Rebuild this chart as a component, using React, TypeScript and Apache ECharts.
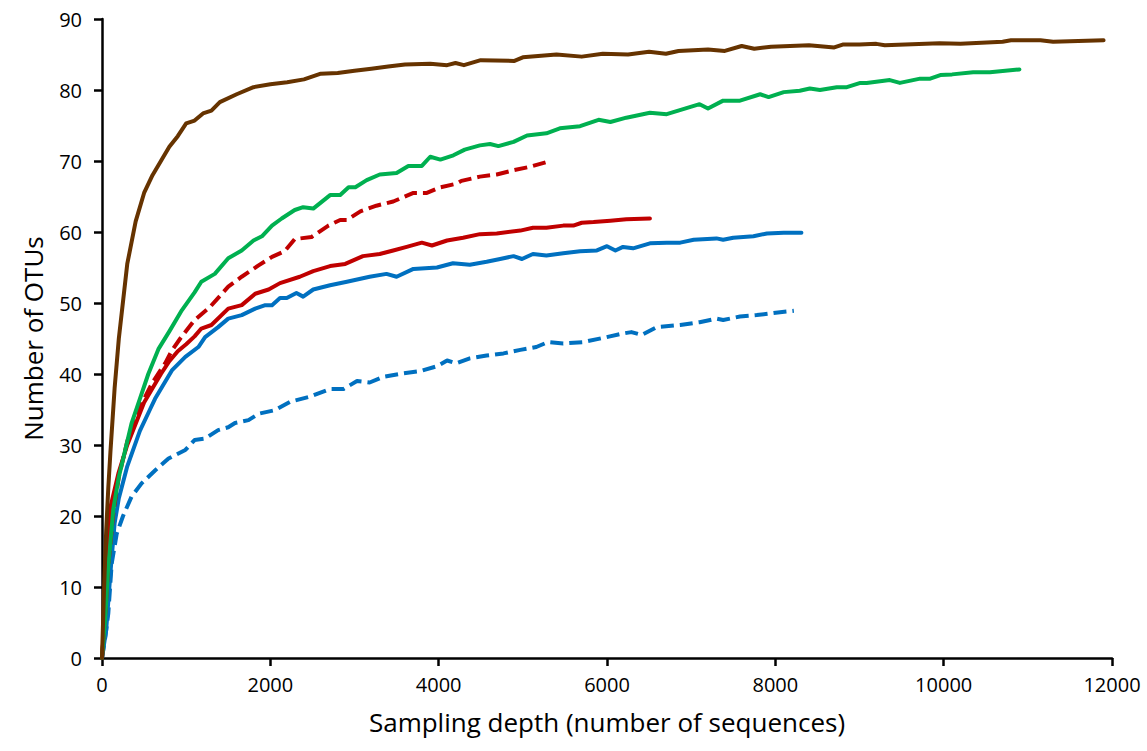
import React, { useEffect, useRef } from "react";
import * as echarts from "echarts";

const xTicks = { min: 0, max: 12000, interval: 2000 };
const yTicks = { min: 0, max: 90, interval: 10 };
const xTitle = "Sampling depth (number of sequences)";
const yTitle = "Number of OTUs";

const brown: number[][] = [
  [0, 0], [25, 10], [50, 18], [75, 24], [100, 29], [150, 38], [200, 45], [300, 55.5], [400, 61.5], [500, 65.5],
  [600, 68], [700, 70], [800, 72], [900, 73.5], [1000, 75.3], [1100, 75.7], [1200, 76.7], [1300, 77.1], [1400, 78.3],
  [1600, 79.4], [1800, 80.4], [2000, 80.8], [2200, 81.1], [2400, 81.5], [2600, 82.3], [2800, 82.4], [3000, 82.7],
  [3200, 83.0], [3400, 83.3], [3600, 83.6], [3900, 83.7], [4100, 83.5], [4200, 83.8], [4300, 83.5], [4500, 84.2],
  [4900, 84.1], [5000, 84.6], [5400, 85.0], [5700, 84.7], [5950, 85.1], [6250, 85.0], [6500, 85.4], [6700, 85.1],
  [6850, 85.5], [7200, 85.7], [7400, 85.5], [7600, 86.2], [7750, 85.8], [7950, 86.1], [8400, 86.3], [8700, 86.0],
  [8800, 86.4], [9000, 86.4], [9200, 86.5], [9300, 86.3], [9950, 86.6], [10200, 86.5], [10700, 86.8], [10800, 87.0],
  [11150, 87.0], [11300, 86.8], [11900, 87.0],
];

const green: number[][] = [
  [0, 0], [40, 6], [75, 13], [135, 21], [200, 25.5], [250, 28], [350, 33], [450, 36.5], [550, 40], [670, 43.5],
  [800, 46], [950, 49], [1100, 51.5], [1180, 53], [1340, 54.1], [1500, 56.3], [1660, 57.4], [1800, 58.8], [1900, 59.4],
  [2020, 60.9], [2135, 61.9], [2290, 63.1], [2390, 63.5], [2510, 63.3], [2710, 65.2], [2830, 65.2], [2930, 66.3],
  [3010, 66.3], [3145, 67.3], [3300, 68.1], [3500, 68.3], [3640, 69.3], [3800, 69.3], [3900, 70.6], [4020, 70.2],
  [4175, 70.8], [4310, 71.6], [4490, 72.2], [4610, 72.4], [4710, 72.1], [4890, 72.7], [5050, 73.6], [5280, 73.9],
  [5440, 74.6], [5680, 74.9], [5900, 75.8], [6040, 75.5], [6230, 76.1], [6510, 76.8], [6710, 76.6], [7100, 78.0],
  [7200, 77.4], [7380, 78.5], [7580, 78.5], [7820, 79.4], [7920, 79.0], [8100, 79.7], [8290, 79.9], [8410, 80.2],
  [8530, 80.0], [8730, 80.4], [8850, 80.4], [9010, 81.0], [9085, 81.0], [9360, 81.4], [9480, 81.0], [9720, 81.6],
  [9840, 81.6], [9960, 82.1], [10100, 82.2], [10350, 82.5], [10550, 82.5], [10900, 82.9],
];

const redDashed: number[][] = [
  [0, 0], [40, 6.5], [75, 13], [135, 20.5], [200, 25.5], [300, 30.5], [400, 34], [500, 36.5], [600, 38.8],
  [750, 41.5], [830, 43.3], [930, 45.0], [1100, 47.6], [1280, 49.4], [1500, 52.3], [1660, 53.7], [1860, 55.3],
  [2020, 56.5], [2170, 57.3], [2290, 59.0], [2490, 59.3], [2690, 60.9], [2830, 61.7], [2910, 61.7], [3070, 62.9],
  [3260, 63.7], [3460, 64.3], [3700, 65.5], [3860, 65.5], [4020, 66.3], [4210, 66.8], [4270, 67.2], [4490, 67.8],
  [4690, 68.1], [4890, 68.7], [5090, 69.2], [5300, 69.9],
];

const redSolid: number[][] = [
  [0, 0], [40, 7], [95, 21], [195, 26], [300, 30], [400, 33], [500, 36], [600, 38], [700, 40], [800, 41.8],
  [900, 43.2], [1000, 44.2], [1100, 45.3], [1180, 46.4], [1300, 46.9], [1500, 49.2], [1660, 49.7], [1820, 51.3],
  [1980, 51.9], [2115, 52.8], [2350, 53.7], [2510, 54.5], [2710, 55.2], [2890, 55.5], [3100, 56.6], [3300, 56.9],
  [3460, 57.4], [3620, 57.9], [3800, 58.5], [3920, 58.1], [4100, 58.8], [4290, 59.2], [4490, 59.7], [4690, 59.8],
  [4970, 60.2], [5120, 60.6], [5280, 60.6], [5480, 60.9], [5600, 60.9], [5700, 61.3], [5840, 61.4], [6040, 61.6],
  [6230, 61.8], [6510, 61.9],
];

const blueSolid: number[][] = [
  [0, 0], [50, 4], [100, 12], [150, 19], [200, 22.5], [300, 27], [450, 32], [570, 35], [630, 36.5], [830, 40.5],
  [990, 42.4], [1145, 43.8], [1225, 45.2], [1380, 46.6], [1500, 47.8], [1660, 48.3], [1820, 49.2], [1940, 49.7],
  [2020, 49.7], [2115, 50.7], [2195, 50.7], [2310, 51.4], [2390, 50.9], [2510, 51.9], [2710, 52.5], [2910, 53.0],
  [3180, 53.7], [3380, 54.1], [3500, 53.7], [3700, 54.8], [3980, 55.0], [4170, 55.6], [4370, 55.4], [4570, 55.8],
  [4730, 56.2], [4890, 56.6], [4990, 56.2], [5120, 56.9], [5280, 56.7], [5480, 57.0], [5680, 57.3], [5880, 57.4],
  [6000, 58.0], [6100, 57.4], [6190, 57.9], [6310, 57.7], [6510, 58.4], [6710, 58.5], [6870, 58.5], [7030, 58.9],
  [7300, 59.1], [7380, 58.9], [7500, 59.2], [7740, 59.4], [7900, 59.8], [8100, 59.9], [8310, 59.9],
];

const blueDashed: number[][] = [
  [0, 0], [40, 3], [75, 6.3], [115, 13.3], [175, 17.5], [250, 20], [350, 22.7], [470, 24.6], [630, 26.4],
  [790, 28.1], [990, 29.3], [1100, 30.7], [1225, 30.9], [1380, 32.1], [1500, 32.5], [1580, 33.1], [1740, 33.5],
  [1860, 34.4], [2050, 34.9], [2240, 36.1], [2470, 36.8], [2710, 37.9], [2870, 37.9], [3030, 39.0], [3180, 38.8],
  [3340, 39.6], [3580, 40.1], [3780, 40.4], [3980, 41.1], [4100, 41.9], [4210, 41.5], [4370, 42.2], [4570, 42.6],
  [4770, 42.9], [4970, 43.4], [5160, 43.8], [5300, 44.5], [5480, 44.3], [5720, 44.5], [5960, 45.1], [6190, 45.7],
  [6290, 45.9], [6410, 45.5], [6590, 46.6], [6870, 46.9], [7100, 47.3], [7300, 47.8], [7380, 47.6], [7580, 48.1],
  [7780, 48.3], [7980, 48.6], [8220, 48.9],
];

const seriesDefs = [
  { name: "Blue dashed", data: blueDashed, color: "#0070C0", dashed: true },
  { name: "Blue", data: blueSolid, color: "#0070C0", dashed: false },
  { name: "Red", data: redSolid, color: "#C00000", dashed: false },
  { name: "Red dashed", data: redDashed, color: "#C00000", dashed: true },
  { name: "Green", data: green, color: "#00B050", dashed: false },
  { name: "Brown", data: brown, color: "#663300", dashed: false },
];

const FONT = "'Open Sans', sans-serif";

export default function App() {
  const ref = useRef<HTMLDivElement>(null);
  useEffect(() => {
    if (!ref.current) return;
    const chart = echarts.init(ref.current, undefined, { renderer: "svg" });
    const axisCommon = {
      axisLine: { show: true, lineStyle: { color: "#000", width: 2.5 } },
      axisTick: { show: true, inside: false, length: 8, lineStyle: { color: "#000", width: 2.5 } },
      splitLine: { show: false },
      nameTextStyle: { fontFamily: FONT, fontSize: 26, color: "#000" },
    };
    chart.setOption({
      animation: false,
      backgroundColor: "#fff",
      grid: { left: 102, right: 35, top: 19, bottom: 93, containLabel: false },
      xAxis: {
        type: "value",
        ...xTicks,
        name: xTitle,
        nameLocation: "middle",
        nameGap: 51,
        ...axisCommon,
        axisLabel: {
          fontFamily: FONT,
          fontSize: 20,
          color: "#000",
          margin: 16,
          formatter: (v: number) => String(v),
        },
      },
      yAxis: {
        type: "value",
        ...yTicks,
        name: yTitle,
        nameLocation: "middle",
        nameGap: 56,
        ...axisCommon,
        axisLabel: {
          fontFamily: FONT,
          fontSize: 20,
          color: "#000",
          margin: 20,
          formatter: (v: number) => String(v),
        },
      },
      series: seriesDefs.map((s) => ({
        name: s.name,
        type: "line",
        data: s.data,
        showSymbol: false,
        symbol: "none",
        smooth: false,
        lineStyle: {
          color: s.color,
          width: 4,
          type: s.dashed ? [13, 6] : "solid",
          join: "round",
          cap: s.dashed ? "butt" : "round",
        },
      })),
    });
    return () => chart.dispose();
  }, []);
  return (
    <div
      ref={ref}
      style={{ position: "absolute", left: 0, top: 0, width: 1147, height: 751 }}
    />
  );
}
